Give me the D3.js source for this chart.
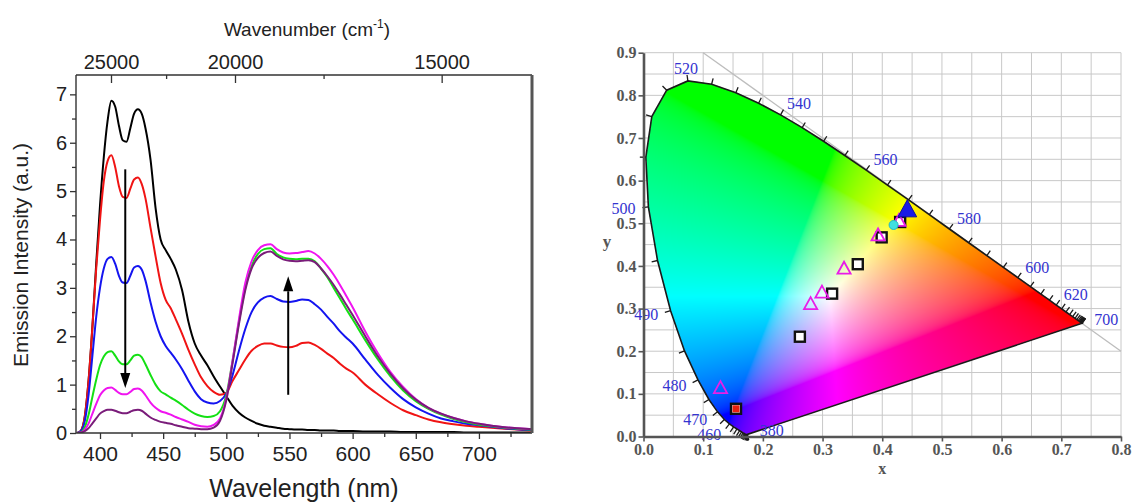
<!DOCTYPE html>
<html>
<head>
<meta charset="utf-8">
<script src="https://cdn.jsdelivr.net/npm/d3@7"></script>
<style>
  body { margin: 0; background: #fff; }
  svg { display: block; }
</style>
</head>
<body>
<script>
// ---- emission spectra (a.u.) ----
const wavelengths = [382, 385, 388, 391, 394, 397, 400, 403, 406, 409, 412, 415, 418, 421, 424, 427, 430, 433, 436,
  440, 444, 448, 452, 456,
  460, 465, 470, 475, 480, 485, 490, 495, 500, 505, 510, 515, 520, 525, 530, 535, 540, 545, 550, 555, 560, 565, 570, 575, 580, 585, 590, 595, 600,
  610, 620, 630, 640, 650, 660, 670, 680, 690, 700, 710, 720, 730, 742];

const specBlack = [0, 0.05, 0.35, 1.1, 2.2, 3.5, 4.7, 5.7, 6.45, 6.87, 6.75, 6.35, 6.05, 6.02, 6.3, 6.6, 6.69, 6.6, 6.3,
  5.65, 4.65, 4.0, 3.78, 3.6,
  3.38, 2.95, 2.3, 1.85, 1.6, 1.4, 1.17, 0.96, 0.76, 0.56, 0.42, 0.32, 0.25, 0.19, 0.15, 0.13, 0.11, 0.09, 0.08, 0.07, 0.07, 0.06, 0.06, 0.05, 0.05, 0.05, 0.04, 0.04, 0.04,
  0.03, 0.03, 0.03, 0.02, 0.02, 0.02, 0.02, 0.02, 0.01, 0.01, 0.01, 0.01, 0.01, 0.01];

const specRed = [0, 0.05, 0.35, 1.1, 2.2, 3.4, 4.4, 5.2, 5.62, 5.74, 5.5, 5.1, 4.88, 4.86, 5.05, 5.24, 5.28, 5.15, 4.85,
  4.24, 3.65, 3.1, 2.75, 2.58,
  2.35, 2.05, 1.72, 1.42, 1.15, 0.97, 0.85, 0.79, 0.83, 1.08, 1.3, 1.52, 1.7, 1.8, 1.85, 1.85, 1.81, 1.78, 1.77, 1.8, 1.86, 1.87, 1.82, 1.74, 1.64, 1.55, 1.43, 1.33, 1.25,
  1.0, 0.8, 0.62, 0.47, 0.37, 0.28, 0.22, 0.18, 0.15, 0.13, 0.11, 0.09, 0.07, 0.05];

const specBlue = [0, 0.04, 0.25, 0.8, 1.6, 2.4, 3.0, 3.4, 3.6, 3.64, 3.5, 3.25, 3.11, 3.1, 3.25, 3.42, 3.45, 3.38, 3.15,
  2.7, 2.3, 2.0, 1.8, 1.66,
  1.52, 1.32, 1.08, 0.86, 0.7, 0.63, 0.61, 0.66, 0.82, 1.2, 1.7, 2.15, 2.5, 2.7, 2.8, 2.83, 2.77, 2.72, 2.71, 2.73, 2.76, 2.75, 2.66, 2.55, 2.4, 2.26, 2.1, 1.97, 1.85,
  1.52, 1.2, 0.93, 0.7, 0.53, 0.4, 0.3, 0.24, 0.19, 0.16, 0.13, 0.1, 0.08, 0.06];

const specGreen = [0, 0.02, 0.12, 0.38, 0.75, 1.1, 1.4, 1.58, 1.67, 1.69, 1.6, 1.48, 1.42, 1.42, 1.5, 1.6, 1.62, 1.57, 1.42,
  1.2, 1.0, 0.86, 0.8, 0.73,
  0.67, 0.58, 0.48, 0.4, 0.35, 0.33, 0.35, 0.45, 0.78, 1.5, 2.3, 3.0, 3.45, 3.7, 3.8, 3.82, 3.7, 3.63, 3.6, 3.59, 3.6, 3.6, 3.55, 3.4, 3.22, 3.0, 2.78, 2.56, 2.35,
  1.92, 1.52, 1.17, 0.88, 0.66, 0.5, 0.38, 0.29, 0.22, 0.17, 0.14, 0.11, 0.09, 0.07];

const specMagenta = [0, 0.01, 0.07, 0.2, 0.4, 0.6, 0.78, 0.88, 0.93, 0.94, 0.89, 0.83, 0.8, 0.8, 0.85, 0.91, 0.92, 0.88, 0.78,
  0.63, 0.52, 0.45, 0.42, 0.38,
  0.33, 0.28, 0.23, 0.17, 0.14, 0.13, 0.17, 0.3, 0.72, 1.5, 2.35, 3.1, 3.55, 3.78, 3.88, 3.9, 3.8, 3.73, 3.71, 3.72, 3.74, 3.76, 3.71, 3.6, 3.45, 3.27, 3.06, 2.83, 2.6,
  2.1, 1.65, 1.26, 0.95, 0.7, 0.52, 0.4, 0.31, 0.24, 0.19, 0.15, 0.12, 0.1, 0.08];

const specPurple = [0, 0.01, 0.04, 0.1, 0.2, 0.3, 0.4, 0.45, 0.48, 0.48, 0.46, 0.43, 0.41, 0.41, 0.44, 0.47, 0.48, 0.46, 0.4,
  0.32, 0.27, 0.23, 0.21, 0.19,
  0.16, 0.13, 0.1, 0.09, 0.08, 0.08, 0.11, 0.25, 0.68, 1.45, 2.25, 2.95, 3.4, 3.62, 3.72, 3.75, 3.66, 3.59, 3.56, 3.55, 3.56, 3.57, 3.53, 3.4, 3.24, 3.06, 2.86, 2.65, 2.44,
  2.0, 1.58, 1.22, 0.92, 0.69, 0.52, 0.4, 0.31, 0.24, 0.19, 0.15, 0.12, 0.1, 0.08];

// tick labels of the spectrum panel
const xTicks = [400, 450, 500, 550, 600, 650, 700];
const yTicks = [0, 1, 2, 3, 4, 5, 6, 7];
const wavenumberTicks = [25000, 20000, 15000];
const wavenumberMinor = [22500, 17500];

// arrows: wavelength, start and end intensity
const arrowNm = [420, 549];
const arrowFrom = [5.45, 0.79];
const arrowTo = [0.93, 3.24];

// ---- CIE 1931 spectral locus, 380-700 nm every 5 nm ----
const locusNm = d3.range(380, 701, 5);
const locusX = [0.1741, 0.1740, 0.1738, 0.1736, 0.1733, 0.1730, 0.1726, 0.1721, 0.1714, 0.1703, 0.1689, 0.1669, 0.1644, 0.1611,
  0.1566, 0.1510, 0.1440, 0.1355, 0.1241, 0.1096, 0.0913, 0.0687, 0.0454, 0.0235, 0.0082, 0.0039, 0.0139, 0.0389, 0.0743,
  0.1142, 0.1547, 0.1929, 0.2296, 0.2658, 0.3016, 0.3373, 0.3731, 0.4087, 0.4441, 0.4788, 0.5125, 0.5448, 0.5752, 0.6029,
  0.6270, 0.6482, 0.6658, 0.6801, 0.6915, 0.7006, 0.7079, 0.7140, 0.7190, 0.7230, 0.7260, 0.7283, 0.7300, 0.7311, 0.7320,
  0.7327, 0.7334, 0.7340, 0.7344, 0.7346, 0.7347];
const locusY = [0.0050, 0.0050, 0.0049, 0.0049, 0.0048, 0.0048, 0.0048, 0.0048, 0.0051, 0.0058, 0.0069, 0.0086, 0.0109, 0.0138,
  0.0177, 0.0227, 0.0297, 0.0399, 0.0578, 0.0868, 0.1327, 0.2007, 0.2950, 0.4127, 0.5384, 0.6548, 0.7502, 0.8120, 0.8338,
  0.8262, 0.8059, 0.7816, 0.7543, 0.7243, 0.6923, 0.6589, 0.6245, 0.5896, 0.5547, 0.5202, 0.4866, 0.4544, 0.4242, 0.3965,
  0.3725, 0.3514, 0.3340, 0.3197, 0.3083, 0.2993, 0.2920, 0.2859, 0.2809, 0.2770, 0.2740, 0.2717, 0.2700, 0.2689, 0.2680,
  0.2673, 0.2666, 0.2660, 0.2656, 0.2654, 0.2653];
const locusLabels = [380, 460, 470, 480, 490, 500, 520, 540, 560, 580, 600, 620, 700];

// measured chromaticity points
const squareX = [0.155, 0.262, 0.316, 0.359, 0.399, 0.430];
const squareY = [0.065, 0.234, 0.335, 0.404, 0.467, 0.503];
const triX = [0.129, 0.280, 0.299, 0.336, 0.393, 0.428];
const triY = [0.113, 0.310, 0.337, 0.393, 0.471, 0.505];
const circleXY = [0.419, 0.496];
const blueTriXY = [0.442, 0.531];
const redSquareXY = [0.155, 0.065];

const series = [
  { name: "black", values: specBlack, color: "#000000" },
  { name: "red", values: specRed, color: "#f01414" },
  { name: "blue", values: specBlue, color: "#1414f0" },
  { name: "green", values: specGreen, color: "#14e014" },
  { name: "magenta", values: specMagenta, color: "#f014f0" },
  { name: "purple", values: specPurple, color: "#7a1c7a" }
];

const svg = d3.select("body").append("svg")
  .attr("width", 1135).attr("height", 504);

// ================= left panel: spectra =================
const sans = "'Liberation Sans', Arial, sans-serif";
const xL = d3.scaleLinear().domain([381, 742]).range([76, 532]);
const yL = d3.scaleLinear().domain([0, 7.4]).range([433, 75]);
// the wavenumber axis in the figure sits slightly off the wavelength one
const xTop = d3.scaleLinear().domain([400, 500]).range([111, 235]);

const left = svg.append("g").style("font-family", sans);

left.append("clipPath").attr("id", "plotClip")
  .append("rect").attr("x", 76).attr("y", 75).attr("width", 456).attr("height", 358);

const line = d3.line()
  .x((d, i) => xL(wavelengths[i]))
  .y(d => yL(d))
  .curve(d3.curveMonotoneX);

left.append("g").attr("clip-path", "url(#plotClip)")
  .selectAll("path").data(series).join("path")
  .attr("d", d => line(d.values))
  .attr("fill", "none")
  .attr("stroke", d => d.color)
  .attr("stroke-width", 2)
  .attr("stroke-linejoin", "round");

// arrows
const arrows = left.append("g");
arrowNm.forEach((nm, i) => {
  const x = xL(nm), y0 = yL(arrowFrom[i]), y1 = yL(arrowTo[i]);
  const dir = y1 > y0 ? 1 : -1, head = 15, half = 5;
  arrows.append("line")
    .attr("x1", x).attr("x2", x).attr("y1", y0).attr("y2", y1 - dir * head)
    .attr("stroke", "#000").attr("stroke-width", 2);
  arrows.append("path")
    .attr("d", `M${x},${y1}L${x - half},${y1 - dir * head}L${x + half},${y1 - dir * head}Z`)
    .attr("fill", "#000");
});

function styleAxis(g, size) {
  g.selectAll("line").attr("stroke", "#333").attr("stroke-width", 1.3);
  g.select(".domain").remove();
  g.selectAll("text").attr("fill", "#222").style("font-size", size + "px").style("font-family", sans);
}

left.append("g").attr("transform", "translate(0,433)")
  .call(d3.axisBottom(xL).tickValues(xTicks).tickSize(6).tickPadding(7))
  .call(g => styleAxis(g, 21));
left.append("g").attr("transform", "translate(0,433)")
  .call(d3.axisBottom(xL).tickValues(d3.range(425, 742, 50)).tickSize(4).tickFormat(""))
  .call(g => styleAxis(g, 10));

left.append("g").attr("transform", "translate(76,0)")
  .call(d3.axisLeft(yL).tickValues(yTicks).tickSize(6).tickPadding(3))
  .call(g => styleAxis(g, 20));
left.append("g").attr("transform", "translate(76,0)")
  .call(d3.axisLeft(yL).tickValues(d3.range(0.5, 7.4, 1)).tickSize(4).tickFormat(""))
  .call(g => styleAxis(g, 10));

left.append("g").attr("transform", "translate(0,75)")
  .call(d3.axisTop(xTop).tickValues(wavenumberTicks.map(v => 1e7 / v))
    .tickFormat(d => Math.round(1e7 / d)).tickSize(-8).tickPadding(6))
  .call(g => styleAxis(g, 20));
left.append("g").attr("transform", "translate(0,75)")
  .call(d3.axisTop(xTop).tickValues(wavenumberMinor.map(v => 1e7 / v)).tickSize(-4).tickFormat(""))
  .call(g => styleAxis(g, 10));

// frame
left.append("path")
  .attr("d", `M${xL.range()[0]},${yL.range()[1]}V${yL.range()[0]}H${xL.range()[1]}M${xL.range()[0]},${yL.range()[1]}H${xL.range()[1]}`)
  .attr("fill", "none").attr("stroke", "#333").attr("stroke-width", 1.4);
left.append("line")
  .attr("x1", xL.range()[1]).attr("x2", xL.range()[1])
  .attr("y1", yL.range()[1]).attr("y2", yL.range()[0])
  .attr("stroke", "#555").attr("stroke-width", 3);

left.append("text")
  .attr("x", 304).attr("y", 497)
  .attr("text-anchor", "middle").attr("fill", "#222")
  .style("font-size", "25px")
  .text("Wavelength (nm)");

left.append("text")
  .attr("transform", "translate(28,255) rotate(-90)")
  .attr("text-anchor", "middle").attr("fill", "#222")
  .style("font-size", "21px")
  .text("Emission Intensity (a.u.)");

const wnTitle = left.append("text")
  .attr("x", 307).attr("y", 36)
  .attr("text-anchor", "middle").attr("fill", "#222")
  .style("font-size", "19px");
wnTitle.append("tspan").text("Wavenumber (cm");
wnTitle.append("tspan").attr("dy", -8).style("font-size", "12px").text("-1");
wnTitle.append("tspan").attr("dy", 8).text(")");

// ================= right panel: CIE 1931 diagram =================
const serif = "'Liberation Serif', 'Times New Roman', serif";
const cx = d3.scaleLinear().domain([0, 0.8]).range([643.5, 1121]);
const cy = d3.scaleLinear().domain([0, 0.9]).range([436.5, 52.7]);

const right = svg.append("g").style("font-family", serif);

// grid
right.append("g").selectAll("line").data(cx.ticks(16)).join("line")
  .attr("x1", d => cx(d)).attr("x2", d => cx(d))
  .attr("y1", cy(0)).attr("y2", cy(0.9))
  .attr("stroke", "#c8c8c8").attr("stroke-width", 1);
right.append("g").selectAll("line").data(cy.ticks(18)).join("line")
  .attr("y1", d => cy(d)).attr("y2", d => cy(d))
  .attr("x1", cx(0)).attr("x2", cx(0.8))
  .attr("stroke", "#c8c8c8").attr("stroke-width", 1);

// x + y = 1 guide
right.append("line")
  .attr("x1", cx(0.1)).attr("y1", cy(0.9))
  .attr("x2", cx(0.8)).attr("y2", cy(0.2))
  .attr("stroke", "#bdbdbd").attr("stroke-width", 1.3);

// colour fill of the gamut, pixel by pixel
const locusPoly = locusX.map((x, i) => [x, locusY[i]]);
{
  const px0 = cx(0), py0 = cy(0.9);
  const W = Math.ceil(cx(0.8) - px0), H = Math.ceil(cy(0) - py0);
  const canvas = document.createElement("canvas");
  canvas.width = W; canvas.height = H;
  const ctx = canvas.getContext("2d");
  const img = ctx.createImageData(W, H);
  const gam = v => v <= 0.0031308 ? 12.92 * v : 1.055 * Math.pow(v, 1 / 2.4) - 0.055;
  for (let j = 0; j < H; j++) {
    const y = cy.invert(py0 + j + 0.5);
    for (let i = 0; i < W; i++) {
      const x = cx.invert(px0 + i + 0.5);
      if (y <= 0 || !d3.polygonContains(locusPoly, [x, y])) continue;
      const X = x / y, Z = (1 - x - y) / y;
      let r = 3.2406 * X - 1.5372 - 0.4986 * Z;
      let g = -0.9689 * X + 1.8758 + 0.0415 * Z;
      let b = 0.0557 * X - 0.2040 + 1.0570 * Z;
      r = Math.max(r, 0); g = Math.max(g, 0); b = Math.max(b, 0);
      const m = Math.max(r, g, b) || 1;
      const k = (j * W + i) * 4;
      img.data[k] = 255 * gam(r / m);
      img.data[k + 1] = 255 * gam(g / m);
      img.data[k + 2] = 255 * gam(b / m);
      img.data[k + 3] = 255;
    }
  }
  ctx.putImageData(img, 0, 0);
  right.append("image")
    .attr("x", px0).attr("y", py0)
    .attr("width", W).attr("height", H)
    .attr("href", canvas.toDataURL());
}

// locus outline and purple line
right.append("path")
  .attr("d", d3.line().x(d => cx(d[0])).y(d => cy(d[1]))(locusPoly) + "Z")
  .attr("fill", "none").attr("stroke", "#1a1a1a").attr("stroke-width", 1.6);

// wavelength ticks and labels along the locus
const locusPx = locusPoly.map(p => [cx(p[0]), cy(p[1])]);
const nL = locusPx.length;
const endDir = (() => {
  const a = locusPx[0], b = locusPx[nL - 1];
  const L = Math.hypot(b[0] - a[0], b[1] - a[1]);
  return [(b[0] - a[0]) / L, (b[1] - a[1]) / L];
})();
function normalAt(i) {
  const a = locusPx[Math.max(i - 1, 0)], b = locusPx[Math.min(i + 1, nL - 1)];
  const dx = b[0] - a[0], dy = b[1] - a[1], L = Math.hypot(dx, dy) || 1;
  return [dy / L, -dx / L];
}
right.append("g").selectAll("line").data(locusPx).join("line")
  .attr("x1", d => d[0]).attr("y1", d => d[1])
  .attr("x2", (d, i) => d[0] + normalAt(i)[0] * 6)
  .attr("y2", (d, i) => d[1] + normalAt(i)[1] * 6)
  .attr("stroke", "#1a1a1a").attr("stroke-width", 1.3);

right.append("g").selectAll("text").data(locusLabels).join("text")
  .each(function (nm) {
    const i = locusNm.indexOf(nm);
    const p = locusPx[i];
    const n = (i === 0 || i === nL - 1) ? endDir : normalAt(i);
    const d = 13;
    d3.select(this)
      .attr("x", p[0] + n[0] * d)
      .attr("y", p[1] + n[1] * d)
      .attr("dy", "0.35em")
      .attr("text-anchor", Math.abs(n[0]) < 0.3 ? "middle" : (n[0] > 0 ? "start" : "end"));
  })
  .attr("fill", "#3434d0")
  .style("font-size", "16px")
  .text(d => d);

// axes
function styleCie(g) {
  g.select(".domain").attr("stroke", "#555").attr("stroke-width", 2.6);
  g.selectAll(".tick line").attr("stroke", "#555").attr("stroke-width", 1.6);
  g.selectAll("text").attr("fill", "#555").style("font-size", "16px")
    .style("font-weight", "bold").style("font-family", serif);
}
right.append("g").attr("transform", `translate(0,${cy(0)})`)
  .call(d3.axisBottom(cx).ticks(8).tickFormat(d3.format(".1f")).tickSize(5).tickSizeOuter(0).tickPadding(2))
  .call(styleCie);
right.append("g").attr("transform", `translate(${cx(0)},0)`)
  .call(d3.axisLeft(cy).ticks(9).tickFormat(d3.format(".1f")).tickSize(5).tickSizeOuter(0).tickPadding(2))
  .call(styleCie);

right.append("text").attr("x", cx(0.4)).attr("y", 474)
  .attr("text-anchor", "middle").attr("fill", "#555")
  .style("font-size", "16px").style("font-weight", "bold").text("x");
right.append("text").attr("x", 607).attr("y", 247)
  .attr("text-anchor", "middle").attr("fill", "#555")
  .style("font-size", "17px").style("font-weight", "bold").text("y");

// markers
const sq = 10;
right.append("g").selectAll("rect").data(squareX).join("rect")
  .attr("x", (d, i) => cx(d) - sq / 2)
  .attr("y", (d, i) => cy(squareY[i]) - sq / 2)
  .attr("width", sq).attr("height", sq)
  .attr("fill", "#fff").attr("stroke", "#111").attr("stroke-width", 2.4);

right.append("rect")
  .attr("x", cx(redSquareXY[0]) - 3.5).attr("y", cy(redSquareXY[1]) - 3.5)
  .attr("width", 7).attr("height", 7).attr("fill", "#e8200e");

const triPath = s => `M0,${-s * 0.6}L${s * 0.55},${s * 0.4}L${-s * 0.55},${s * 0.4}Z`;
right.append("g").selectAll("path").data(triX).join("path")
  .attr("transform", (d, i) => `translate(${cx(d)},${cy(triY[i])})`)
  .attr("d", triPath(12))
  .attr("fill", "none").attr("stroke", "#e81ee8").attr("stroke-width", 1.8);

right.append("circle")
  .attr("cx", cx(circleXY[0])).attr("cy", cy(circleXY[1])).attr("r", 4.5)
  .attr("fill", "#3fe0e0").attr("stroke", "#20b8c8").attr("stroke-width", 1);

right.append("path")
  .attr("transform", `translate(${cx(blueTriXY[0])},${cy(blueTriXY[1])})`)
  .attr("d", triPath(17))
  .attr("fill", "#1a1ae6").attr("stroke", "#1010a0").attr("stroke-width", 1);
</script>
</body>
</html>
